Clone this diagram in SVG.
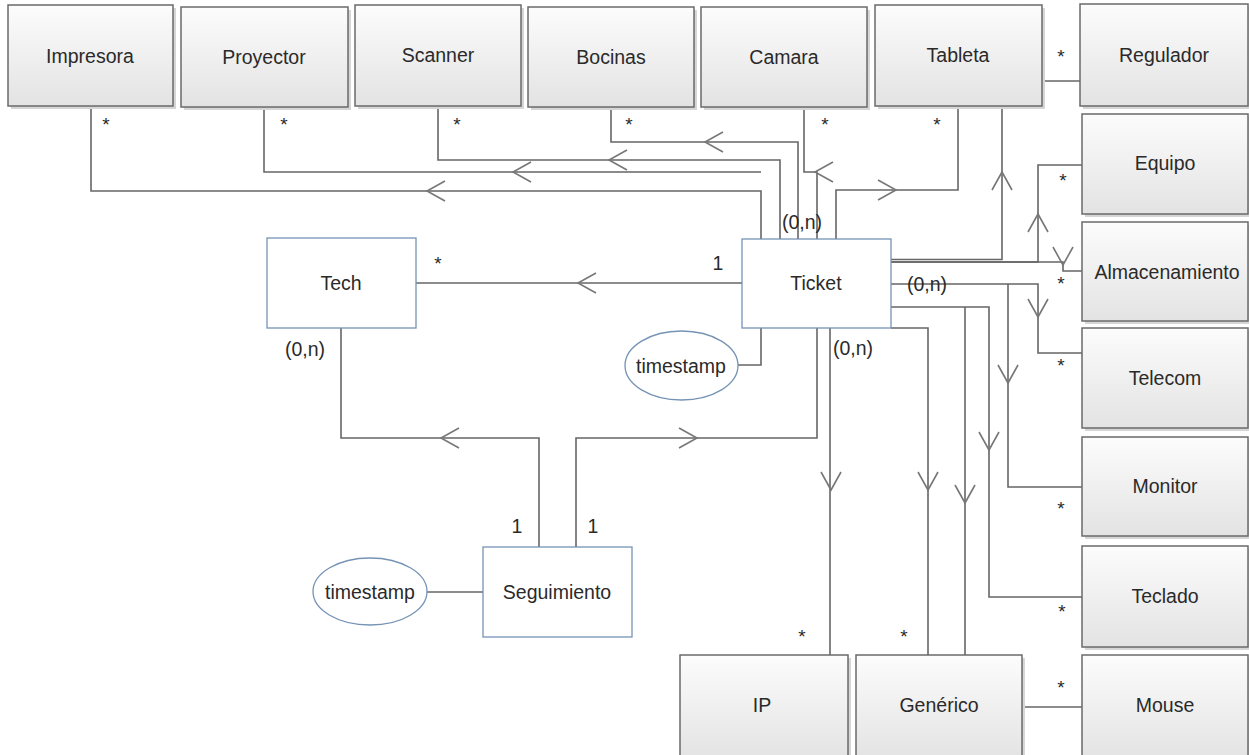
<svg xmlns="http://www.w3.org/2000/svg" width="1249" height="755" viewBox="0 0 1249 755">
<defs>
<linearGradient id="g" x1="0" y1="0" x2="0" y2="1">
<stop offset="0" stop-color="#fcfcfc"/>
<stop offset="1" stop-color="#e3e3e3"/>
</linearGradient>
<path id="ah" d="M18,-10 L0,0 L18,10"/>
</defs>
<style>
.ent{fill:url(#g);stroke:#6a6a6a;stroke-width:1.5}
.sh{fill:#d6d6d6}
.blue{fill:#ffffff;stroke:#7593b5;stroke-width:1.3}
.ell{fill:#ffffff;stroke:#7593b5;stroke-width:1.3}
text{font-family:"Liberation Sans",Arial,sans-serif;font-size:19.5px;fill:#2a2a2a}
.lbl{text-anchor:middle;dominant-baseline:central}
.st{text-anchor:middle;font-size:19px}
.c{fill:none;stroke:#666;stroke-width:1.6}
.a{fill:none;stroke:#777;stroke-width:1.6}
</style>
<rect width="1249" height="755" fill="#ffffff"/>

<g id="connectors">
<path class="c" d="M416,283 H742"/>
<path class="c" d="M341,328 V438 H539 V547"/>
<path class="c" d="M576,547 V438 H817 V328"/>
<path class="c" d="M830,328 V655"/>
<path class="c" d="M738,365 H761 V328"/>
<path class="c" d="M427,592 H483"/>
<path class="c" d="M91,106 V191 H761 V239"/>
<path class="c" d="M264,107 V172 H761"/>
<path class="c" d="M438,106 V160 H780 V239"/>
<path class="c" d="M611,107 V142 H798 V239"/>
<path class="c" d="M804,107 V172 H817 V239"/>
<path class="c" d="M958,106 V190 H836 V239"/>
<path class="c" d="M1002,106 V259.5 H891"/>
<path class="c" d="M1042,81 H1080"/>
<path class="c" d="M1082,165 H1038 V262 H891"/>
<path class="c" d="M891,262 H1063 V271 H1082"/>
<path class="c" d="M891,284 H1038 V353 H1082"/>
<path class="c" d="M1008,284 V487 H1082"/>
<path class="c" d="M891,307 H989 V597 H1082"/>
<path class="c" d="M891,328 H928 V655"/>
<path class="c" d="M965,307 V655"/>
<path class="c" d="M1022,707 H1082"/>
<use href="#ah" class="a" transform="translate(578,283)"/>
<use href="#ah" class="a" transform="translate(441,438)"/>
<use href="#ah" class="a" transform="translate(697,438) rotate(180)"/>
<use href="#ah" class="a" transform="translate(427,191)"/>
<use href="#ah" class="a" transform="translate(513,172)"/>
<use href="#ah" class="a" transform="translate(609,160)"/>
<use href="#ah" class="a" transform="translate(705,142)"/>
<use href="#ah" class="a" transform="translate(815,172)"/>
<use href="#ah" class="a" transform="translate(896,190) rotate(180)"/>
<use href="#ah" class="a" transform="translate(1002,172) rotate(90)"/>
<use href="#ah" class="a" transform="translate(1038,214) rotate(90)"/>
<use href="#ah" class="a" transform="translate(1063,265) rotate(-90)"/>
<use href="#ah" class="a" transform="translate(1038,317) rotate(-90)"/>
<use href="#ah" class="a" transform="translate(1008,383) rotate(-90)"/>
<use href="#ah" class="a" transform="translate(989,450) rotate(-90)"/>
<use href="#ah" class="a" transform="translate(831,490) rotate(-90)"/>
<use href="#ah" class="a" transform="translate(928,490) rotate(-90)"/>
<use href="#ah" class="a" transform="translate(965,503) rotate(-90)"/>
</g>

<g id="labels">
<text class="st" x="106" y="131">*</text>
<text class="st" x="284" y="131">*</text>
<text class="st" x="457" y="131">*</text>
<text class="st" x="629" y="131">*</text>
<text class="st" x="825" y="131">*</text>
<text class="st" x="937" y="131">*</text>
<text class="st" x="1061" y="63">*</text>
<text class="st" x="1063" y="187">*</text>
<text class="st" x="1061" y="290">*</text>
<text class="st" x="1061" y="372">*</text>
<text class="st" x="1061" y="515">*</text>
<text class="st" x="1062" y="618">*</text>
<text class="st" x="1061" y="694">*</text>
<text class="st" x="802" y="643">*</text>
<text class="st" x="904" y="643">*</text>
<text class="st" x="438" y="270">*</text>
<text class="lbl" x="718" y="263">1</text>
<text class="lbl" x="517" y="526">1</text>
<text class="lbl" x="593" y="526">1</text>
<text class="lbl" x="305" y="349">(0,n)</text>
<text class="lbl" x="853" y="348">(0,n)</text>
<text class="lbl" x="927" y="284">(0,n)</text>
<text class="lbl" x="802" y="222">(0,n)</text>
</g>

<g id="impresora"><rect class="sh" x="11" y="8" width="165" height="101"/><rect class="ent" x="8" y="5" width="165" height="101"/><text class="lbl" x="90" y="56">Impresora</text></g>
<g id="proyector"><rect class="sh" x="184" y="10" width="167" height="100"/><rect class="ent" x="181" y="7" width="167" height="100"/><text class="lbl" x="264" y="57">Proyector</text></g>
<g id="scanner"><rect class="sh" x="358" y="8" width="166" height="101"/><rect class="ent" x="355" y="5" width="166" height="101"/><text class="lbl" x="438" y="55">Scanner</text></g>
<g id="bocinas"><rect class="sh" x="531" y="10" width="166" height="100"/><rect class="ent" x="528" y="7" width="166" height="100"/><text class="lbl" x="611" y="57">Bocinas</text></g>
<g id="camara"><rect class="sh" x="704" y="10" width="166" height="100"/><rect class="ent" x="701" y="7" width="166" height="100"/><text class="lbl" x="784" y="57">Camara</text></g>
<g id="tableta"><rect class="sh" x="878" y="8" width="167" height="101"/><rect class="ent" x="875" y="5" width="167" height="101"/><text class="lbl" x="958" y="55">Tableta</text></g>
<g id="regulador"><rect class="sh" x="1083" y="7" width="168" height="102"/><rect class="ent" x="1080" y="4" width="168" height="102"/><text class="lbl" x="1164" y="55">Regulador</text></g>
<g id="equipo"><rect class="sh" x="1085" y="117" width="166" height="100"/><rect class="ent" x="1082" y="114" width="166" height="100"/><text class="lbl" x="1165" y="163">Equipo</text></g>
<g id="almacenamiento"><rect class="sh" x="1085" y="225" width="166" height="99"/><rect class="ent" x="1082" y="222" width="166" height="99"/><text class="lbl" x="1167" y="272">Almacenamiento</text></g>
<g id="telecom"><rect class="sh" x="1085" y="331" width="166" height="100"/><rect class="ent" x="1082" y="328" width="166" height="100"/><text class="lbl" x="1165" y="378">Telecom</text></g>
<g id="monitor"><rect class="sh" x="1085" y="440" width="166" height="99"/><rect class="ent" x="1082" y="437" width="166" height="99"/><text class="lbl" x="1165" y="486">Monitor</text></g>
<g id="teclado"><rect class="sh" x="1085" y="549" width="166" height="101"/><rect class="ent" x="1082" y="546" width="166" height="101"/><text class="lbl" x="1165" y="596">Teclado</text></g>
<g id="mouse"><rect class="sh" x="1085" y="658" width="166" height="105"/><rect class="ent" x="1082" y="655" width="166" height="105"/><text class="lbl" x="1165" y="705">Mouse</text></g>
<g id="ip"><rect class="sh" x="683" y="658" width="168" height="105"/><rect class="ent" x="680" y="655" width="168" height="105"/><text class="lbl" x="762" y="705">IP</text></g>
<g id="generico"><rect class="sh" x="859" y="658" width="166" height="105"/><rect class="ent" x="856" y="655" width="166" height="105"/><text class="lbl" x="939" y="705">Genérico</text></g>

<g id="tech"><rect class="blue" x="267" y="238" width="149" height="90"/><text class="lbl" x="341" y="283">Tech</text></g>
<g id="ticket"><rect class="blue" x="742" y="239" width="149" height="89"/><text class="lbl" x="816" y="283">Ticket</text></g>
<g id="seguimiento"><rect class="blue" x="483" y="547" width="149" height="90"/><text class="lbl" x="557" y="592">Seguimiento</text></g>
<g id="timestamp1"><ellipse class="ell" cx="681.5" cy="365.5" rx="56.5" ry="34.5"/><text class="lbl" x="681" y="366">timestamp</text></g>
<g id="timestamp2"><ellipse class="ell" cx="370" cy="591.5" rx="57" ry="33.5"/><text class="lbl" x="370" y="592">timestamp</text></g>
</svg>
